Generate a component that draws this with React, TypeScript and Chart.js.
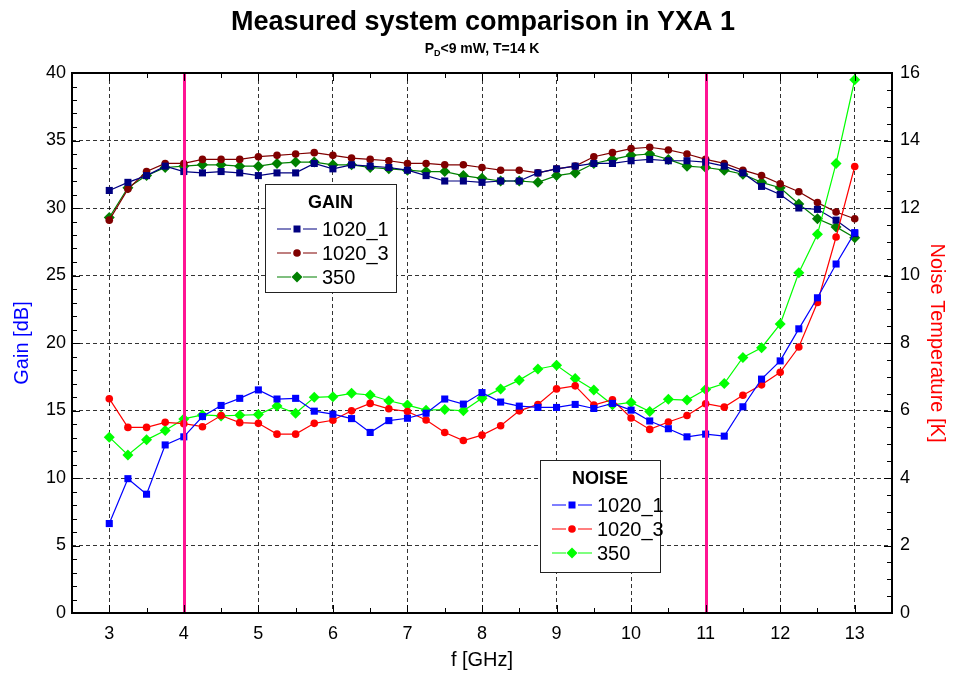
import React, { useEffect, useRef } from 'react';
import { Chart, registerables } from 'chart.js';

Chart.register(...registerables);

// Measurement frequencies [GHz]
const freqGHz = [
  3, 3.25, 3.5, 3.75, 4, 4.25, 4.5, 4.75, 5, 5.25, 5.5, 5.75, 6, 6.25, 6.5, 6.75,
  7, 7.25, 7.5, 7.75, 8, 8.25, 8.5, 8.75, 9, 9.25, 9.5, 9.75, 10, 10.25, 10.5, 10.75,
  11, 11.25, 11.5, 11.75, 12, 12.25, 12.5, 12.75, 13,
];

// Gain [dB]
const gain1020_1 = [
  31.3, 31.9, 32.4, 33.1, 32.7, 32.6, 32.7, 32.6, 32.4, 32.6, 32.6, 33.3, 32.9, 33.2, 33.1, 33.0,
  32.8, 32.4, 32.0, 32.0, 31.9, 32.0, 32.0, 32.6, 32.9, 33.1, 33.3, 33.3, 33.5, 33.6, 33.5, 33.5,
  33.4, 33.1, 32.6, 31.6, 31.0, 30.0, 29.9, 29.1, 28.1,
];
const gain1020_3 = [
  29.1, 31.4, 32.7, 33.3, 33.3, 33.6, 33.6, 33.6, 33.8, 33.9, 34.0, 34.1, 33.9, 33.7, 33.6, 33.5,
  33.3, 33.3, 33.2, 33.2, 33.0, 32.8, 32.8, 32.6, 32.9, 33.1, 33.8, 34.1, 34.4, 34.5, 34.3, 34.0,
  33.6, 33.3, 32.8, 32.4, 31.8, 31.2, 30.4, 29.7, 29.2,
];
const gain350 = [
  29.3, 31.5, 32.4, 33.0, 33.1, 33.2, 33.2, 33.1, 33.1, 33.3, 33.4, 33.4, 33.2, 33.2, 33.0, 32.9,
  32.8, 32.7, 32.7, 32.4, 32.2, 32.0, 32.0, 31.9, 32.4, 32.6, 33.3, 33.6, 33.9, 34.0, 33.6, 33.1,
  33.0, 32.8, 32.5, 31.9, 31.5, 30.3, 29.2, 28.6, 27.8,
];

// Noise temperature [K]
const noise1020_1 = [
  2.65, 3.98, 3.52, 4.98, 5.22, 5.82, 6.15, 6.36, 6.61, 6.34, 6.36, 5.98, 5.89, 5.76, 5.35, 5.70,
  5.77, 5.92, 6.34, 6.19, 6.53, 6.25, 6.13, 6.09, 6.09, 6.18, 6.06, 6.21, 6.01, 5.69, 5.46, 5.22,
  5.30, 5.24, 6.11, 6.93, 7.47, 8.42, 9.34, 10.34, 11.27,
];
const noise1020_3 = [
  6.35, 5.50, 5.50, 5.65, 5.61, 5.52, 5.85, 5.64, 5.62, 5.30, 5.30, 5.62, 5.71, 5.99, 6.21, 6.05,
  5.97, 5.72, 5.35, 5.11, 5.27, 5.55, 5.99, 6.18, 6.64, 6.73, 6.16, 6.32, 5.78, 5.44, 5.66, 5.85,
  6.20, 6.10, 6.45, 6.76, 7.13, 7.88, 9.20, 11.14, 13.23,
];
const noise350 = [
  5.21, 4.68, 5.13, 5.41, 5.75, 5.87, 5.84, 5.86, 5.88, 6.13, 5.92, 6.39, 6.41, 6.51, 6.46, 6.29,
  6.16, 6.01, 6.03, 5.99, 6.36, 6.64, 6.90, 7.23, 7.34, 6.95, 6.61, 6.17, 6.24, 5.97, 6.33, 6.31,
  6.62, 6.80, 7.57, 7.86, 8.56, 10.08, 11.22, 13.32, 15.80,
];

// Axis ticks
const freqTicks = [3, 4, 5, 6, 7, 8, 9, 10, 11, 12, 13];
const gainTicks = [0, 5, 10, 15, 20, 25, 30, 35, 40];
const noiseTicks = [0, 2, 4, 6, 8, 10, 12, 14, 16];

// Band edges marked with vertical lines [GHz]
const bandEdges = [4, 11];

const FONT = '"Liberation Sans", Arial, Helvetica, sans-serif';

type Marker = 'rect' | 'circle' | 'diamond';

const toPoints = (ys: number[]) => freqGHz.map((x, i) => ({ x, y: ys[i] }));

function drawMarker(ctx: CanvasRenderingContext2D, kind: Marker, x: number, y: number, color: string) {
  ctx.fillStyle = color;
  ctx.beginPath();
  if (kind === 'rect') {
    ctx.rect(x - 3.5, y - 3.5, 7, 7);
  } else if (kind === 'circle') {
    ctx.arc(x, y, 3.8, 0, Math.PI * 2);
  } else {
    ctx.moveTo(x, y - 5.5);
    ctx.lineTo(x + 5.5, y);
    ctx.lineTo(x, y + 5.5);
    ctx.lineTo(x - 5.5, y);
    ctx.closePath();
  }
  ctx.fill();
}

interface LegendSpec {
  title: string;
  dx: number;
  dy: number;
  w: number;
  h: number;
  items: { label: string; color: string; marker: Marker }[];
}

const legends: LegendSpec[] = [
  {
    title: 'GAIN',
    dx: 193,
    dy: 111,
    w: 131,
    h: 108,
    items: [
      { label: '1020_1', color: '#000080', marker: 'rect' },
      { label: '1020_3', color: '#800000', marker: 'circle' },
      { label: '350', color: '#008000', marker: 'diamond' },
    ],
  },
  {
    title: 'NOISE',
    dx: 468,
    dy: 387,
    w: 120,
    h: 112,
    items: [
      { label: '1020_1', color: '#0000ff', marker: 'rect' },
      { label: '1020_3', color: '#ff0000', marker: 'circle' },
      { label: '350', color: '#00ff00', marker: 'diamond' },
    ],
  },
];

const decorPlugin = {
  id: 'decor',
  afterDatasetsDraw(chart: any) {
    const { ctx, chartArea: a, scales } = chart;
    ctx.save();

    // band edge lines
    ctx.strokeStyle = '#ff1493';
    ctx.lineWidth = 3;
    bandEdges.forEach((f) => {
      const px = Math.round(scales.x.getPixelForValue(f)) + 0.5;
      ctx.beginPath();
      ctx.moveTo(px, a.top);
      ctx.lineTo(px, a.bottom);
      ctx.stroke();
    });

    // inward tick marks
    ctx.strokeStyle = '#000';
    ctx.lineWidth = 1;
    const tick = (x1: number, y1: number, x2: number, y2: number) => {
      ctx.beginPath();
      ctx.moveTo(x1, y1);
      ctx.lineTo(x2, y2);
      ctx.stroke();
    };
    for (let v = 2.5; v <= 13.5001; v += 0.5) {
      const px = Math.round(scales.x.getPixelForValue(v)) + 0.5;
      const len = Math.abs(v - Math.round(v)) < 1e-6 ? 8 : 5;
      tick(px, a.bottom, px, a.bottom - len);
      tick(px, a.top, px, a.top + len);
    }
    for (let v = 0; v <= 40; v += 1) {
      const py = Math.round(scales.y.getPixelForValue(v)) + 0.5;
      const len = v % 5 === 0 ? 8 : 5;
      tick(a.left, py, a.left + len, py);
    }
    for (let v = 0; v <= 16.0001; v += 0.5) {
      const py = Math.round(scales.y2.getPixelForValue(v)) + 0.5;
      const len = Math.abs(v % 2) < 1e-6 ? 8 : 5;
      tick(a.right, py, a.right - len, py);
    }

    // plot frame
    ctx.lineWidth = 2;
    ctx.strokeRect(a.left, a.top, a.right - a.left, a.bottom - a.top);

    // legend boxes
    legends.forEach((lg) => {
      const bx = a.left + lg.dx;
      const by = a.top + lg.dy;
      ctx.fillStyle = '#fff';
      ctx.fillRect(bx, by, lg.w, lg.h);
      ctx.strokeStyle = '#222';
      ctx.lineWidth = 1;
      ctx.strokeRect(bx + 0.5, by + 0.5, lg.w, lg.h);
      ctx.fillStyle = '#000';
      ctx.font = `bold 18px ${FONT}`;
      ctx.textAlign = 'center';
      ctx.textBaseline = 'middle';
      ctx.fillText(lg.title, bx + lg.w / 2, by + 19);
      ctx.font = `20px ${FONT}`;
      ctx.textAlign = 'left';
      lg.items.forEach((it, i) => {
        const iy = by + 45 + i * 24;
        ctx.strokeStyle = it.color;
        ctx.lineWidth = 1.2;
        ctx.beginPath();
        ctx.moveTo(bx + 12, iy);
        ctx.lineTo(bx + 26, iy);
        ctx.moveTo(bx + 38, iy);
        ctx.lineTo(bx + 52, iy);
        ctx.stroke();
        drawMarker(ctx, it.marker, bx + 32, iy, it.color);
        ctx.fillStyle = '#000';
        ctx.fillText(it.label, bx + 57, iy + 1);
      });
    });

    ctx.restore();
  },
  afterDraw(chart: any) {
    const { ctx, chartArea: a } = chart;
    const cx = (a.left + a.right) / 2;
    ctx.save();
    ctx.fillStyle = '#000';
    ctx.textBaseline = 'middle';
    ctx.textAlign = 'center';
    ctx.font = `bold 27px ${FONT}`;
    ctx.fillText('Measured system comparison in YXA 1', cx + 1, 23);

    // subtitle with subscript
    const big = `bold 14px ${FONT}`;
    const small = `bold 9px ${FONT}`;
    const p1 = 'P';
    const sub = 'D';
    const p2 = '<9 mW, T=14 K';
    ctx.font = big;
    const w1 = ctx.measureText(p1).width;
    const w3 = ctx.measureText(p2).width;
    ctx.font = small;
    const w2 = ctx.measureText(sub).width;
    let x = cx - (w1 + w2 + w3) / 2;
    const y = 49;
    ctx.textAlign = 'left';
    ctx.font = big;
    ctx.fillText(p1, x, y);
    x += w1;
    ctx.font = small;
    ctx.fillText(sub, x, y + 5);
    x += w2;
    ctx.font = big;
    ctx.fillText(p2, x, y);
    ctx.restore();
  },
};

export default function App() {
  const canvasRef = useRef<HTMLCanvasElement | null>(null);

  useEffect(() => {
    if (!canvasRef.current) return;

    const lineDs = (label: string, data: number[], color: string, style: string, radius: number, axis: string, order: number) => ({
      label,
      data: toPoints(data),
      borderColor: color,
      backgroundColor: color,
      borderWidth: 1.2,
      pointStyle: style,
      pointRadius: radius,
      pointBorderWidth: 0,
      pointBackgroundColor: color,
      yAxisID: axis,
      order,
      tension: 0,
    });

    const tickFont = { family: FONT, size: 18 };

    const chart = new Chart(canvasRef.current, {
      type: 'line',
      data: {
        datasets: [
          lineDs('Noise 1020_1', noise1020_1, '#0000ff', 'rect', 5, 'y2', 1),
          lineDs('Noise 1020_3', noise1020_3, '#ff0000', 'circle', 3.8, 'y2', 1),
          lineDs('Noise 350', noise350, '#00ff00', 'rectRot', 5.5, 'y2', 1),
          lineDs('Gain 1020_1', gain1020_1, '#000080', 'rect', 5, 'y', 2),
          lineDs('Gain 1020_3', gain1020_3, '#800000', 'circle', 3.8, 'y', 2),
          lineDs('Gain 350', gain350, '#008000', 'rectRot', 5.5, 'y', 2),
        ] as any,
      },
      options: {
        animation: false,
        responsive: false,
        devicePixelRatio: 1,
        layout: { padding: { top: 73, left: 0, right: 0, bottom: 0 } },
        plugins: {
          legend: { display: false },
          title: { display: false },
          tooltip: { enabled: false },
        },
        scales: {
          x: {
            type: 'linear',
            min: 2.5,
            max: 13.5,
            afterBuildTicks: (s: any) => {
              s.ticks = freqTicks.map((value) => ({ value }));
            },
            afterFit: (s: any) => {
              s.height = 60;
            },
            ticks: { font: tickFont, color: '#000', padding: 10, maxRotation: 0, autoSkip: false },
            grid: { drawTicks: false, color: 'rgba(0,0,0,0.8)', lineWidth: 1 },
            border: { display: false, dash: [4, 3] },
            title: { display: true, text: 'f [GHz]', color: '#000', font: { family: FONT, size: 20 }, padding: { top: 0, bottom: 1 } },
          },
          y: {
            type: 'linear',
            position: 'left',
            min: 0,
            max: 40,
            afterBuildTicks: (s: any) => {
              s.ticks = gainTicks.map((value) => ({ value }));
            },
            afterFit: (s: any) => {
              s.width = 72;
            },
            ticks: { font: tickFont, color: '#000', padding: 6, autoSkip: false },
            grid: { drawTicks: false, color: 'rgba(0,0,0,0.8)', lineWidth: 1 },
            border: { display: false, dash: [4, 3] },
            title: { display: true, text: 'Gain [dB]', color: '#0000ff', font: { family: FONT, size: 20 }, padding: { top: 10, bottom: 0 } },
          },
          y2: {
            type: 'linear',
            position: 'right',
            min: 0,
            max: 16,
            afterBuildTicks: (s: any) => {
              s.ticks = noiseTicks.map((value) => ({ value }));
            },
            afterFit: (s: any) => {
              s.width = 61;
            },
            ticks: { font: tickFont, color: '#000', padding: 8, autoSkip: false },
            grid: { display: false, drawTicks: false },
            border: { display: false },
            title: { display: true, text: 'Noise Temperature [K]', color: '#ff0000', font: { family: FONT, size: 20 }, padding: { top: 4, bottom: 0 } },
          },
        },
      } as any,
      plugins: [decorPlugin],
    });

    return () => chart.destroy();
  }, []);

  return (
    <div style={{ position: 'absolute', left: 0, top: 0, width: 953, height: 673, background: '#fff' }}>
      <canvas ref={canvasRef} width={953} height={673} style={{ width: 953, height: 673, display: 'block' }} />
    </div>
  );
}
